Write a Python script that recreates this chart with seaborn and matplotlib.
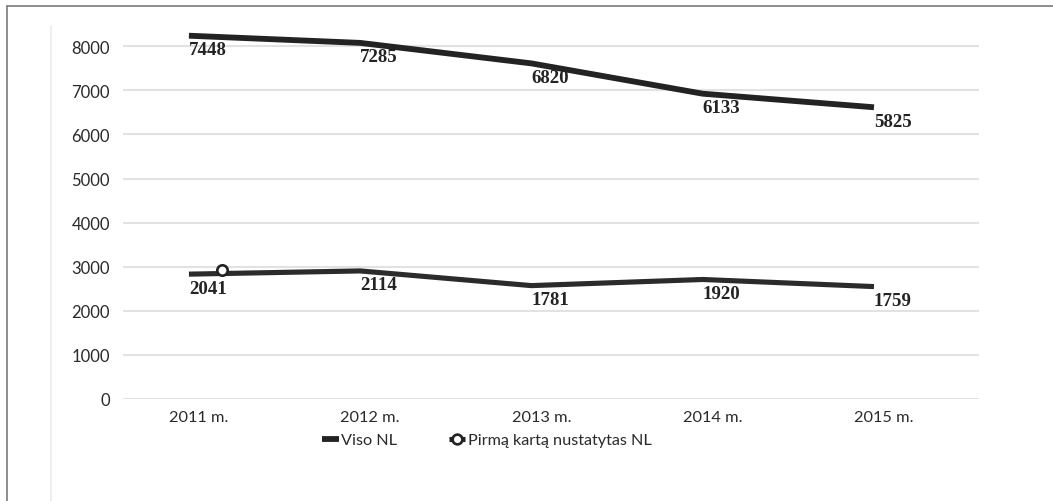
import numpy as np
import pandas as pd
import matplotlib
matplotlib.use("Agg")
import matplotlib.pyplot as plt
import matplotlib.transforms as mtransforms
from matplotlib.lines import Line2D
import seaborn as sns

# --- data -------------------------------------------------------------
years = ["2011 m.", "2012 m.", "2013 m.", "2014 m.", "2015 m."]
viso_nl = [7448, 7285, 6820, 6133, 5825]
pirma_nl = [2041, 2114, 1781, 1920, 1759]
series_names = ["Viso NL", "Pirmą kartą nustatytas NL"]
y_tick_values = [0, 1000, 2000, 3000, 4000, 5000, 6000, 7000, 8000]

# the value axis is labelled with a constant shift over the plotted scale
AXIS_SHIFT = 790
INK = "#232323"

sns.set_theme(style="white")
plt.rcParams["font.family"] = ["Lato", "DejaVu Sans"]

fig = plt.figure(figsize=(10.53, 5.02), dpi=100)
ax = fig.add_axes([0.1168, 0.2032, 0.8129, 0.743])

df = pd.DataFrame({
    "pos": np.tile(np.arange(len(years)), 2),
    "value": viso_nl + pirma_nl,
    "series": np.repeat(series_names, len(years)),
})

sns.lineplot(data=df[df.series == series_names[0]], x="pos", y="value",
             color=INK, linewidth=4.2, solid_capstyle="butt", ax=ax,
             legend=False)
sns.lineplot(data=df[df.series == series_names[1]], x="pos", y="value",
             color="#2b2b2b", linewidth=3.7, solid_capstyle="butt", ax=ax,
             legend=False)

# single ring marker of the second series, drawn a little to the right
ring_shift = mtransforms.ScaledTranslation(0.33, 0.04, fig.dpi_scale_trans)
ax.plot([0], [pirma_nl[0]], marker="o", linestyle="none", markersize=7.5,
        markerfacecolor="white", markeredgecolor=INK, markeredgewidth=1.9,
        transform=ax.transData + ring_shift, zorder=5)

# value labels below each point
for vals in (viso_nl, pirma_nl):
    for i, v in enumerate(vals):
        ax.annotate(str(v), (i, v), xytext=(0, -14), textcoords="offset pixels",
                    ha="left", va="center", fontsize=13.6, fontweight="bold",
                    family=["Liberation Serif", "DejaVu Serif"], color=INK)

# axes
ax.set_xlim(-0.385, 4.613)
ax.set_ylim(-AXIS_SHIFT, 7668)
ax.set_yticks(np.array(y_tick_values) - AXIS_SHIFT)
ax.set_yticklabels([str(v) for v in y_tick_values])
ax.set_xticks(range(len(years)))
ax.set_xticklabels(years)
ax.set_xlabel("")
ax.set_ylabel("")
ax.yaxis.grid(True, color="#e2e2e2", linewidth=1.5)
ax.xaxis.grid(False)
ax.set_axisbelow(True)
sns.despine(ax=ax, left=True, bottom=True)
ax.tick_params(axis="y", length=0, pad=9.5, labelsize=12, labelcolor="#2a2a2a")
ax.tick_params(axis="x", length=0, pad=8.0, labelsize=11.8, labelcolor="#2a2a2a")
label_shift = mtransforms.ScaledTranslation(0.10, 0, fig.dpi_scale_trans)
for lbl in ax.get_xticklabels():
    lbl.set_transform(lbl.get_transform() + label_shift)

# legend
handles = [
    Line2D([], [], color=INK, linewidth=4.2, solid_capstyle="butt"),
    Line2D([], [], color=INK, linewidth=3.7, solid_capstyle="butt",
           marker="o", markersize=7, markerfacecolor="white",
           markeredgecolor=INK, markeredgewidth=1.9),
]
fig.legend(handles, series_names, loc="center", bbox_to_anchor=(0.4625, 0.121),
           ncol=2, frameon=False, handlelength=1.0, handletextpad=0.15,
           columnspacing=3.2, fontsize=11.7, labelcolor="#2a2a2a")

# frame lines around the chart area
fig.add_artist(Line2D([7 / 1053, 1], [1 - 7 / 502, 1 - 7 / 502],
                      transform=fig.transFigure, color="#7a7a7a", linewidth=1.2))
fig.add_artist(Line2D([7 / 1053, 7 / 1053], [0, 1 - 7 / 502],
                      transform=fig.transFigure, color="#7a7a7a", linewidth=1.2))
fig.add_artist(Line2D([50.5 / 1053, 50.5 / 1053], [0, 1 - 27 / 502],
                      transform=fig.transFigure, color="#ebebeb", linewidth=1.2))

fig.savefig("out.png", dpi=100, facecolor="white")
